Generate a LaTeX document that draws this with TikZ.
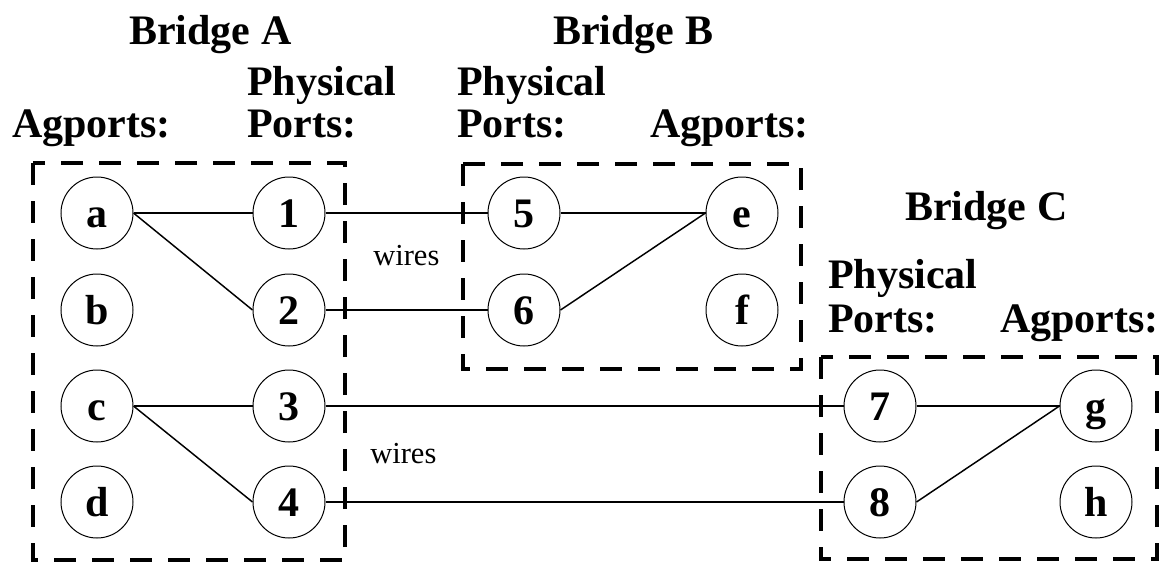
\documentclass[tikz,border=0pt]{standalone}
\usepackage{fontspec}
\setmainfont{Liberation Serif}
\begin{document}
\begin{tikzpicture}[x=0.75pt,y=-0.75pt,
  port/.style={circle,draw,line width=0.75pt,minimum size=54pt,inner sep=0pt,
    text height=21pt,text depth=0pt,
    font=\fontsize{31.5}{36}\selectfont\bfseries},
  heading/.style={anchor=base west,inner sep=0pt,
    font=\fontsize{31.5}{36}\selectfont\bfseries},
  note/.style={anchor=base west,inner sep=0pt,font=\fontsize{22.9}{26}\selectfont},
  bridgebox/.style={line width=2.4pt,dash pattern=on 16.5pt off 12pt},
  link/.style={line width=1.1pt}]
\useasboundingbox (0,0) rectangle (1161,561);

% bridge outlines
\draw[bridgebox] (33,163) rectangle (345,560);
\draw[bridgebox] (463,164) rectangle (801,369);
\draw[bridgebox] (821,357) rectangle (1157,559);

% headings
\node[heading] (ta) at (129,44) {Bridge A};
\node[heading] (tb) at (553,44) {Bridge B};
\node[heading] (tc) at (905,220) {Bridge C};
\node[heading] (agA) at (12,137) {Agports:};
\node[heading] (phA1) at (247,95) {Physical};
\node[heading] (phA2) at (247,137) {Ports:};
\node[heading] (phB1) at (457,95) {Physical};
\node[heading] (phB2) at (457,137) {Ports:};
\node[heading] (agB) at (650,137) {Agports:};
\node[heading] (phC1) at (828,288) {Physical};
\node[heading] (phC2) at (828,332) {Ports:};
\node[heading] (agC) at (1000,332) {Agports:};
\node[note] (w1) at (373,265) {wires};
\node[note] (w2) at (370,463) {wires};

% bridge A
\node[port] (a) at (97,213) {a};
\node[port] (b) at (97,310) {b};
\node[port] (c) at (97,406) {c};
\node[port] (d) at (97,502) {d};
\node[port] (p1) at (289,213) {1};
\node[port] (p2) at (289,310) {2};
\node[port] (p3) at (289,406) {3};
\node[port] (p4) at (289,502) {4};
% bridge B
\node[port] (p5) at (524,213) {5};
\node[port] (p6) at (524,310) {6};
\node[port] (e) at (742,213) {e};
\node[port] (f) at (742,310) {f};
% bridge C
\node[port] (p7) at (880,406) {7};
\node[port] (p8) at (880,502) {8};
\node[port] (g) at (1096,406) {g};
\node[port] (h) at (1096,502) {h};

% aggregation inside bridges
\draw[link] (a.east) -- (p1.west);
\draw[link] (a.east) -- (p2.west);
\draw[link] (c.east) -- (p3.west);
\draw[link] (c.east) -- (p4.west);
\draw[link] (p5.east) -- (e.west);
\draw[link] (p6.east) -- (e.west);
\draw[link] (p7.east) -- (g.west);
\draw[link] (p8.east) -- (g.west);

% wires between bridges
\draw[link] (p1.east) -- (p5.west);
\draw[link] (p2.east) -- (p6.west);
\draw[link] (p3.east) -- (p7.west);
\draw[link] (p4.east) -- (p8.west);
\end{tikzpicture}
\end{document}
